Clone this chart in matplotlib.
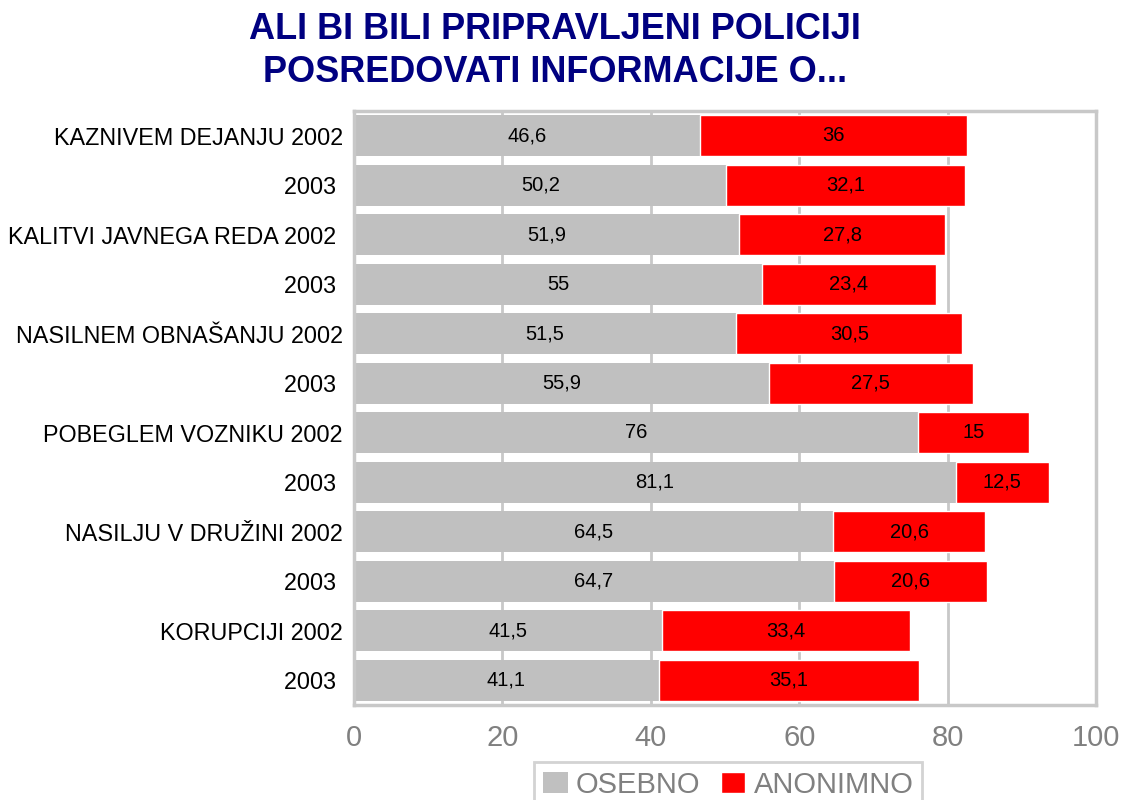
'''Stacked horizontal bar chart: willingness to pass information to police'''
import matplotlib
matplotlib.use("Agg")
import matplotlib.pyplot as plt
import numpy as np

plt.rcParams['font.family'] = ['Liberation Sans', 'DejaVu Sans']

# Data (top to bottom)
categories = ["KAZNIVEM DEJANJU 2002", "2003 ", "KALITVI JAVNEGA REDA 2002 ", "2003 ",
              "NASILNEM OBNAŠANJU 2002", "2003 ", "POBEGLEM VOZNIKU 2002", "2003 ",
              "NASILJU V DRUŽINI 2002", "2003 ", "KORUPCIJI 2002", "2003 "]
osebno = [46.6, 50.2, 51.9, 55, 51.5, 55.9, 76, 81.1, 64.5, 64.7, 41.5, 41.1]
anonimno = [36, 32.1, 27.8, 23.4, 30.5, 27.5, 15, 12.5, 20.6, 20.6, 33.4, 35.1]
series_names = ["OSEBNO", "ANONIMNO"]
x_ticks = [0, 20, 40, 60, 80, 100]

GRAY = "#c0c0c0"
RED = "#ff0000"
FRAME = "#c8c8c8"

def fmt(v):
    #Slovenian style decimal comma
    s = f"{v:g}"
    return s.replace(".", ",")

fig = plt.figure(figsize=(11.22, 8), dpi=100)
ax = fig.add_axes([354 / 1122, 1 - 705 / 800, (1096 - 354) / 1122, (705 - 111) / 800])

y = np.arange(len(categories))
h = 0.83
b1 = ax.barh(y, osebno, height=h, color=GRAY, label=series_names[0], zorder=2)
b2 = ax.barh(y, anonimno, left=osebno, height=h, color=RED, label=series_names[1],
             edgecolor="white", linewidth=1.0, zorder=2)

#Value labels in the middle of each segment
for i in range(len(categories)):
    ax.text(osebno[i] / 2, y[i], fmt(osebno[i]), ha="center", va="center",
            fontsize=14.5, color="black", zorder=3)
    ax.text(osebno[i] + anonimno[i] / 2, y[i], fmt(anonimno[i]), ha="center", va="center",
            fontsize=14.5, color="black", zorder=3)

ax.set_xlim(0, 100)
ax.set_ylim(len(categories) - 0.5, -0.5)
ax.set_xticks(x_ticks)
ax.set_xticklabels([str(t) for t in x_ticks], fontsize=21, color="#808080")
ax.set_yticks(y)
ax.set_yticklabels(categories, fontsize=16.8, color="black")
ax.tick_params(axis="both", length=0)
ax.tick_params(axis="x", pad=14)
ax.tick_params(axis="y", pad=8)

ax.grid(axis="x", color=FRAME, linewidth=2, zorder=0)
ax.set_axisbelow(True)
for sp in ax.spines.values():
    sp.set_color(FRAME)
    sp.set_linewidth(2.5)

fig.text(555 / 1122, 1 - 51 / 800, "ALI BI BILI PRIPRAVLJENI POLICIJI\nPOSREDOVATI INFORMACIJE O...",
         ha="center", va="center", fontsize=26, fontweight="bold", color="#000080",
         linespacing=1.3)

leg = fig.legend(handles=[b1, b2], labels=series_names, loc="upper left",
                 bbox_to_anchor=(534 / 1122, 1 - 762 / 800), ncol=2, fontsize=21,
                 frameon=True, fancybox=False, handlelength=0.85, handleheight=0.75,
                 handletextpad=0.28, columnspacing=0.7, borderpad=0.3,
                 borderaxespad=0)
leg.get_frame().set_edgecolor(FRAME)
leg.get_frame().set_linewidth(2)
for t in leg.get_texts():
    t.set_color("#808080")

fig.savefig("out.png", dpi=100)
plt.close(fig)
